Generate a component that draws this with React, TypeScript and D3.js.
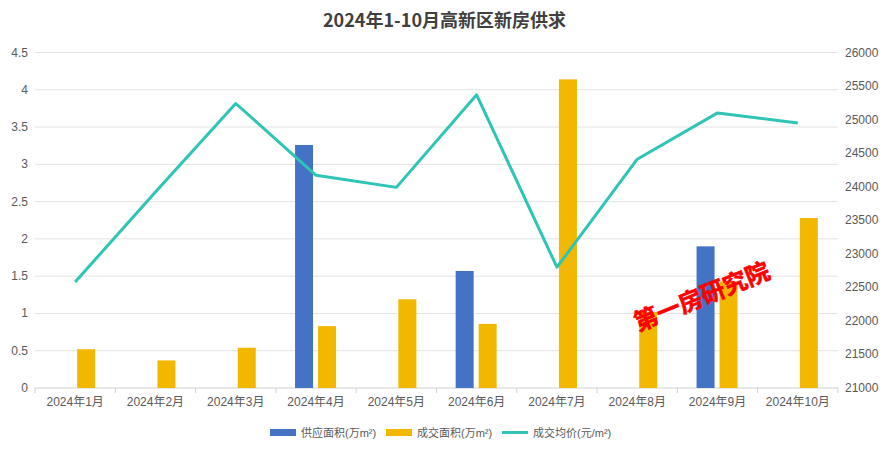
import React from "react";
import * as d3 from "d3";

const title = "2024年1-10月高新区新房供求";
const categories = ["2024年1月","2024年2月","2024年3月","2024年4月","2024年5月","2024年6月","2024年7月","2024年8月","2024年9月","2024年10月"];
const supply: (number | null)[] = [null, null, null, 3.26, null, 1.57, null, null, 1.9, null];
const deals: number[] = [0.52, 0.37, 0.54, 0.83, 1.19, 0.86, 4.14, 1.02, 1.43, 2.28];
const prices: number[] = [22580, 23920, 25240, 24170, 23990, 25370, 22800, 24410, 25100, 24950];
const leftTicks = [0, 0.5, 1, 1.5, 2, 2.5, 3, 3.5, 4, 4.5];
const rightTicks = [21000, 21500, 22000, 22500, 23000, 23500, 24000, 24500, 25000, 25500, 26000];
const legendNames = ["供应面积(万m²)", "成交面积(万m²)", "成交均价(元/m²)"];
const watermark = "第一房研究院";

const W = 889, H = 453;
const left = 35, right = 838, top = 52.5, bottom = 388;
const BLUE = "#4472C4", GOLD = "#F2B800", TEAL = "#2EC4B6";
const FONT = "'Liberation Sans', Arial, 'Noto Sans CJK SC', sans-serif";

export default function App() {
  const x = d3.scaleBand<string>().domain(categories).range([left, right]);
  const yL = d3.scaleLinear().domain([0, 4.5]).range([bottom, top]);
  const yR = d3.scaleLinear().domain([21000, 26000]).range([bottom, top]);
  const bw = 18;
  const line = d3.line<number>()
    .x((_, i) => x(categories[i])! + x.bandwidth() / 2)
    .y((d) => yR(d));
  const lx = [270, 386, 502];
  return (
    <svg width={W} height={H} style={{ position: "absolute", left: 0, top: 0, background: "#fff" }}>
      <rect width={W} height={H} fill="#fff" />
      <text x={W / 2} y={27} textAnchor="middle" fontFamily="'Noto Sans CJK SC', sans-serif" fontWeight="bold" fontSize={18} fill="#404040">{title}</text>
      {leftTicks.map((t) => (
        <g key={"g" + t}>
          {t > 0 && <line x1={left} x2={right} y1={yL(t)} y2={yL(t)} stroke="#e3e3e3" strokeWidth={1} />}
          <text x={28} y={yL(t) + 4} textAnchor="end" fontFamily={FONT} fontSize={12} fill="#595959">{t}</text>
        </g>
      ))}
      {rightTicks.map((t) => (
        <text key={"r" + t} x={845} y={yR(t) + 4} textAnchor="start" fontFamily={FONT} fontSize={12} fill="#595959">{t}</text>
      ))}
      <line x1={left} x2={right} y1={bottom} y2={bottom} stroke="#d0d0d0" />
      {categories.map((c, i) => (
        <line key={"t" + i} x1={x(c)!} x2={x(c)!} y1={bottom} y2={bottom + 5} stroke="#d0d0d0" />
      ))}
      <line x1={right} x2={right} y1={bottom} y2={bottom + 5} stroke="#d0d0d0" />
      {categories.map((c) => (
        <text key={"x" + c} x={x(c)! + x.bandwidth() / 2} y={bottom + 18} textAnchor="middle" fontFamily={FONT} fontSize={12} fill="#595959">{c}</text>
      ))}
      {supply.map((v, i) => v == null ? null : (
        <rect key={"s" + i} x={x(categories[i])! + x.bandwidth() / 2 - 12 - bw / 2} y={yL(v)} width={bw} height={bottom - yL(v)} fill={BLUE} />
      ))}
      {deals.map((v, i) => (
        <rect key={"d" + i} x={x(categories[i])! + x.bandwidth() / 2 + 11 - bw / 2} y={yL(v)} width={bw} height={bottom - yL(v)} fill={GOLD} />
      ))}
      <path d={line(prices)!} fill="none" stroke={TEAL} strokeWidth={3} strokeLinejoin="round" />
      <text x={702} y={305} textAnchor="middle" transform="rotate(-22 702 297)" fontFamily="'Noto Sans CJK SC', sans-serif" fontWeight="bold" fontSize={24} fill="#ff0000" stroke="#ff0000" strokeWidth={0.6}>{watermark}</text>
      <rect x={lx[0]} y={429} width={26} height={7} fill={BLUE} />
      <rect x={lx[1]} y={429} width={26} height={7} fill={GOLD} />
      <line x1={lx[2]} x2={lx[2] + 26} y1={432.5} y2={432.5} stroke={TEAL} strokeWidth={3} />
      {legendNames.map((n, i) => (
        <text key={n} x={lx[i] + 31} y={437} fontFamily={FONT} fontSize={11} fill="#595959">{n}</text>
      ))}
    </svg>
  );
}
